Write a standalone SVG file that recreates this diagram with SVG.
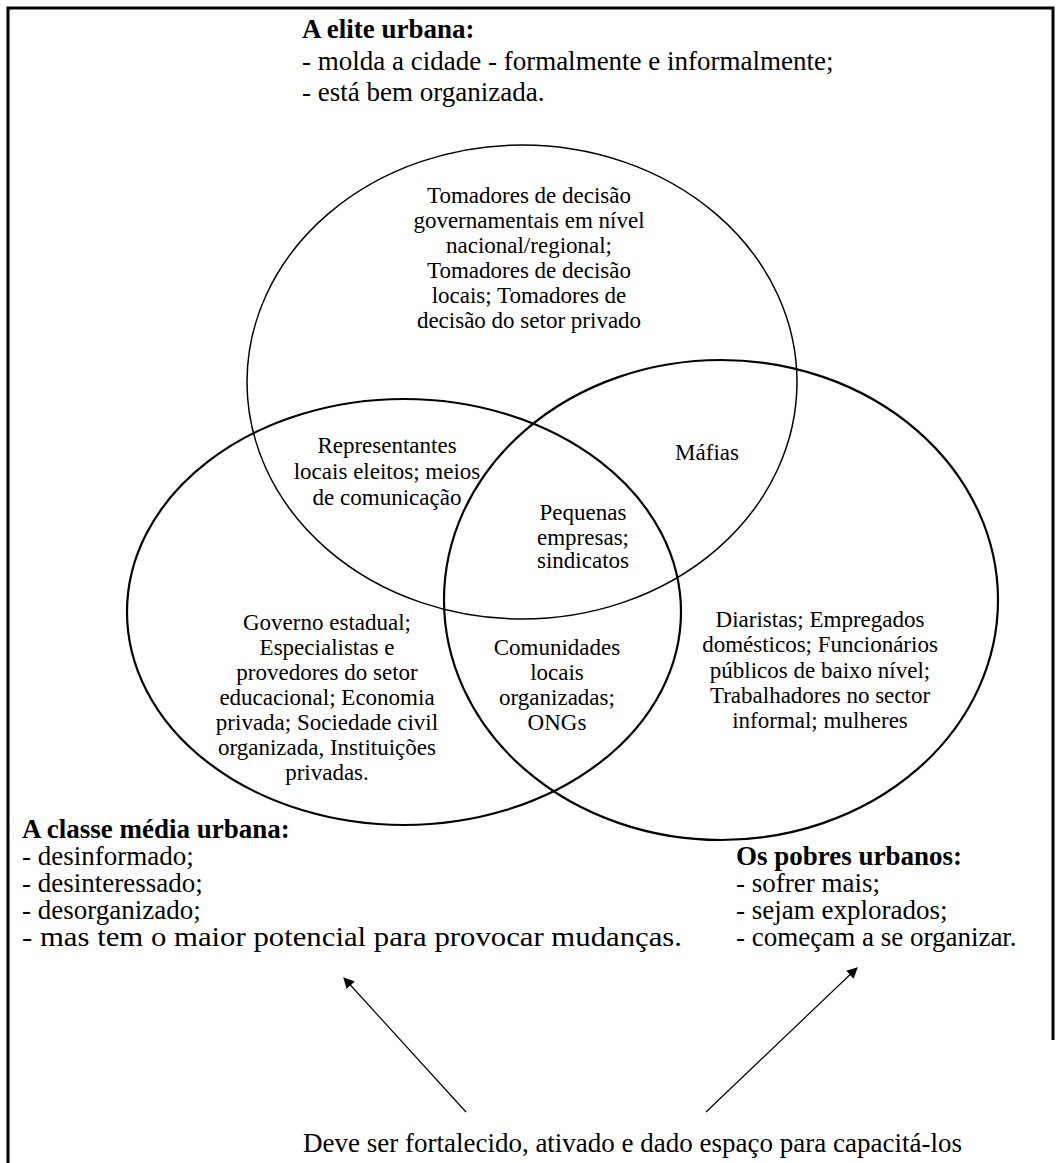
<svg xmlns="http://www.w3.org/2000/svg" width="1063" height="1163" viewBox="0 0 1063 1163">
<defs>
<style>
text{font-family:"Liberation Serif","Times New Roman",serif;fill:#000}
.t{font-size:27px}
.b{font-size:27px;font-weight:bold}
.c{font-size:23px;text-anchor:middle}
.circ{fill:none;stroke:#000;stroke-width:2.2}
.thin{stroke-width:1.5}
.arr{stroke:#000;stroke-width:1.2;fill:none}
</style>
<marker id="ah" viewBox="0 0 10 10" refX="9" refY="5" markerWidth="11" markerHeight="11" markerUnits="userSpaceOnUse" orient="auto"><path d="M0,0 L10,5 L0,10 z" fill="#000"/></marker>
</defs>
<rect width="1063" height="1163" fill="#fff"/>
<path d="M8,1163 V8 H1053 V1040" fill="none" stroke="#000" stroke-width="3"/>
<g id="elite">
<ellipse class="circ thin" cx="522" cy="382" rx="275" ry="237"/>
<text class="b" x="302" y="38">A elite urbana:</text>
<text class="t" x="302" y="70">- molda a cidade - formalmente e informalmente;</text>
<text class="t" x="302" y="101">- está bem organizada.</text>
<text class="c"><tspan x="529" y="203">Tomadores de decisão</tspan><tspan x="529" y="228">governamentais em nível</tspan><tspan x="529" y="253">nacional/regional;</tspan><tspan x="529" y="278">Tomadores de decisão</tspan><tspan x="529" y="303">locais; Tomadores de</tspan><tspan x="529" y="328">decisão do setor privado</tspan></text>
</g>
<g id="media">
<ellipse class="circ" cx="404" cy="612" rx="277" ry="213"/>
<text class="b" x="22" y="838">A classe média urbana:</text>
<text class="t" x="22" y="865">- desinformado;</text>
<text class="t" x="22" y="892">- desinteressado;</text>
<text class="t" x="22" y="919">- desorganizado;</text>
<text class="t" x="22" y="946" textLength="660" lengthAdjust="spacingAndGlyphs">- mas tem o maior potencial para provocar mudanças.</text>
<text class="c"><tspan x="327" y="630">Governo estadual;</tspan><tspan x="327" y="655">Especialistas e</tspan><tspan x="327" y="680">provedores do setor</tspan><tspan x="327" y="705">educacional; Economia</tspan><tspan x="327" y="730">privada; Sociedade civil</tspan><tspan x="327" y="755">organizada, Instituições</tspan><tspan x="327" y="780">privadas.</tspan></text>
</g>
<g id="pobres">
<ellipse class="circ" cx="721" cy="600" rx="277" ry="240"/>
<text class="b" x="736" y="865">Os pobres urbanos:</text>
<text class="t" x="736" y="892">- sofrer mais;</text>
<text class="t" x="736" y="919">- sejam explorados;</text>
<text class="t" x="736" y="946">- começam a se organizar.</text>
<text class="c"><tspan x="820" y="627">Diaristas; Empregados</tspan><tspan x="820" y="652">domésticos; Funcionários</tspan><tspan x="820" y="678">públicos de baixo nível;</tspan><tspan x="820" y="703">Trabalhadores no sector</tspan><tspan x="820" y="728">informal; mulheres</tspan></text>
</g>
<g id="elite-media">
<text class="c"><tspan x="387" y="453">Representantes</tspan><tspan x="387" y="479">locais eleitos; meios</tspan><tspan x="387" y="505">de comunicação</tspan></text>
</g>
<g id="elite-pobres">
<text class="c" x="707" y="460">Máfias</text>
</g>
<g id="todos">
<text class="c"><tspan x="583" y="520">Pequenas</tspan><tspan x="583" y="545">empresas;</tspan><tspan x="583" y="568">sindicatos</tspan></text>
</g>
<g id="media-pobres">
<text class="c"><tspan x="557" y="655">Comunidades</tspan><tspan x="557" y="680">locais</tspan><tspan x="557" y="705">organizadas;</tspan><tspan x="557" y="730">ONGs</tspan></text>
</g>
<g id="nota">
<text class="t" x="303" y="1152">Deve ser fortalecido, ativado e dado espaço para capacitá-los</text>
</g>
<g id="connectors">
<line class="arr" x1="466" y1="1112" x2="344" y2="978" marker-end="url(#ah)"/>
<line class="arr" x1="706" y1="1112" x2="857" y2="968" marker-end="url(#ah)"/>
</g>
</svg>
